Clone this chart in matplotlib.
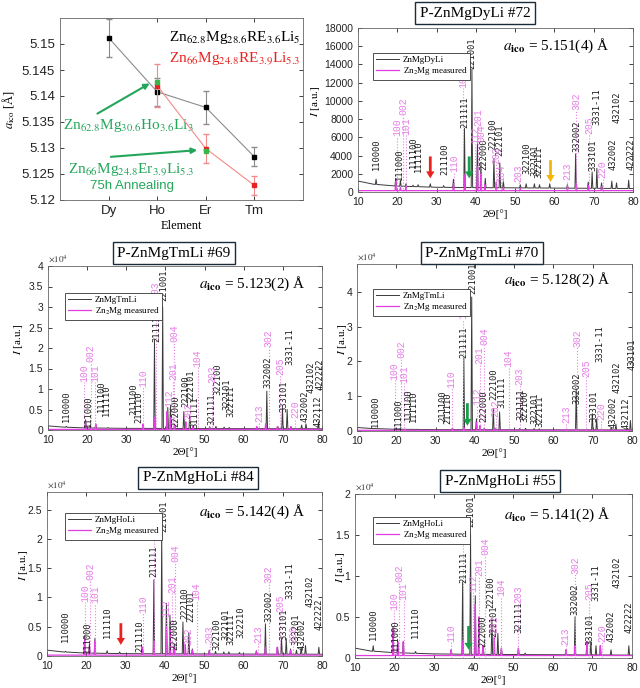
import numpy as np
import matplotlib
matplotlib.use('Agg')
import matplotlib.pyplot as plt
from matplotlib.ticker import FuncFormatter

plt.rcParams['mathtext.fontset'] = 'stix'
plt.rcParams['font.family'] = 'Liberation Sans'

# ---------------- lattice parameter panel ----------------
elements = ['Dy', 'Ho', 'Er', 'Tm']
a_black = [5.1512, 5.1408, 5.1378, 5.1283]
a_black_err = [0.0037, 0.0027, 0.0031, 0.0018]
red_x = [2, 3, 4]
a_red = [5.1420, 5.1299, 5.1228]
a_red_err = [0.0042, 0.0028, 0.0019]
green_x = [2, 3]
a_green = [5.1426, 5.1294]

# ---------------- XRD patterns ----------------
# Zn2Mg reflections seen in the measured reference pattern
zn2mg_pos = [19.6, 20.8, 22.2, 34.3, 37.2, 40.4, 41.3, 42.3, 45.2, 47.0, 51.3, 63.3, 65.6, 68.6, 72.0]

# P-ZnMgDyLi #72
dy72_bg = [(10, 1200), (14, 850), (20, 650), (30, 520), (40, 480), (60, 430), (80, 380)]
dy72_peaks = [(14.6, 1400), (19.6, 1500), (20.8, 1300), (22.2, 900), (24.0, 750), (25.3, 800),
              (28.4, 900), (31.8, 700), (34.3, 1400), (37.1, 7000), (39.0, 13500), (40.4, 5400),
              (41.3, 3200), (42.4, 1500), (44.6, 3700), (46.1, 3200), (47.0, 1200), (51.3, 800),
              (52.8, 900), (54.9, 900), (56.2, 800), (58.8, 900), (63.3, 800), (65.4, 4200),
              (68.6, 1100), (69.6, 2200), (70.8, 2600), (72.0, 1000), (74.6, 1200), (75.8, 1000),
              (78.9, 1300)]
dy72_mg_base = 150
dy72_mg = [1400, 500, 700, 900, 1900, 2800, 2000, 800, 1100, 500, 400, 600, 900, 700, 600]
dy72_ico = [(14.7, '110000', 2400), (20.5, '111000', 1300), (24.1, '111100', 2600),
            (25.3, '111110', 2200), (32.2, '211100', 1900), (37.3, '211111', 7000),
            (38.9, '221001', 13500), (42.1, '222000', 2400), (44.4, '222100', 4600),
            (46.0, '222101', 3900), (52.9, '322100', 2000), (55.1, '322101', 1800),
            (56.1, '322111', 1500), (65.6, '332002', 4400), (69.7, '333101', 2300),
            (70.9, '3331-11', 7400), (74.9, '432002', 2400), (75.9, '432102', 7600),
            (79.4, '422222', 2400)]
dy72_zn = [(19.9, '100', 6100), (21.5, '002', 8500), (22.3, '101', 6300), (34.5, '110', 2200),
           (36.8, '103', 11400), (39.8, '112', 5300), (40.6, '201', 7200), (41.3, '004', 5500),
           (45.2, '202', 3100), (46.5, '104', 1100), (50.9, '203', 1100), (63.2, '213', 1300),
           (65.6, '302', 9000), (68.9, '205', 6400), (72.3, '220', 1500)]
dy72_arrows = [(28.4, 3900, 1500, '#e8231f'), (38.3, 3900, 1500, '#1a9e4a'), (59.0, 3500, 1100, '#f2b705')]

# P-ZnMgTmLi #69
tm69_bg = [(10, 1000), (14, 700), (20, 500), (30, 400), (50, 350), (80, 300)]
tm69_peaks = [(14.7, 900), (19.6, 2500), (20.8, 1200), (22.2, 1300), (25.3, 600), (34.3, 1200),
              (37.2, 22000), (39.3, 30000), (40.6, 5500), (41.3, 6000), (42.4, 1200), (44.7, 4500),
              (46.2, 3500), (47.1, 1000), (51.3, 800), (52.9, 900), (55.0, 700), (56.3, 600),
              (63.4, 700), (65.9, 9500), (68.7, 900), (69.9, 5500), (71.1, 5000), (72.1, 800),
              (74.8, 1200), (75.9, 1500), (79.1, 2000)]
tm69_mg_base = 150
tm69_mg = [2000, 800, 1500, 1500, 3000, 4500, 3000, 1200, 2000, 800, 600, 800, 1500, 800, 800]
tm69_ico = [(14.8, '110000', 2000), (20.4, '111000', 800), (23.6, '111100', 4500),
            (24.9, '111110', 3300), (31.9, '211100', 3700), (33.3, '211110', 1600),
            (37.7, '211111', 21500), (39.6, '221001', 31500), (42.6, '222000', 800),
            (45.1, '222100', 5500), (46.6, '222101', 7000), (47.5, '311111', 500),
            (51.9, '321111', 1200), (53.4, '322100', 8500), (55.7, '322101', 4900),
            (56.8, '322111', 3200), (66.3, '332002', 10200), (70.3, '333101', 4500),
            (71.8, '3331-11', 15800), (75.6, '432002', 2000), (77.2, '432102', 9000),
            (78.9, '432112', 800), (79.6, '422222', 9800)]
tm69_zn = [(19.2, '100', 11800), (20.9, '002', 16700), (22.0, '101', 11800), (34.3, '110', 10600),
           (37.5, '103', 32000), (41.0, '112', 5700), (42.0, '201', 12200), (42.3, '004', 21500),
           (45.9, '202', 2400), (48.2, '104', 15400), (51.9, '203', 11500), (63.9, '213', 2000),
           (66.4, '302', 20300), (69.3, '205', 13400), (73.1, '220', 2900)]
tm69_arrows = []

# P-ZnMgTmLi #70
tm70_bg = [(10, 1000), (14, 700), (20, 500), (30, 400), (50, 350), (80, 300)]
tm70_peaks = [(14.7, 800), (19.6, 700), (20.8, 600), (24.0, 500), (25.3, 500), (34.3, 700),
              (37.2, 21000), (39.2, 38500), (40.4, 3500), (41.3, 1500), (42.4, 800), (44.7, 6500),
              (46.3, 5500), (51.4, 700), (52.9, 800), (55.1, 700), (56.4, 600), (65.8, 12000),
              (69.9, 5000), (71.0, 3500), (74.7, 1000), (75.9, 2000), (78.9, 800), (79.6, 3000)]
tm70_mg_base = 200
tm70_mg = [800, 300, 500, 800, 1000, 2500, 1500, 500, 800, 400, 300, 400, 600, 400, 400]
tm70_ico = [(14.6, '110000', 1200), (20.5, '111000', 200), (23.2, '111100', 3100),
            (24.3, '111110', 2600), (31.8, '211100', 2600), (33.1, '211110', 2000),
            (37.3, '211111', 20900), (39.4, '221001', 39500), (42.3, '222000', 2600),
            (44.9, '222100', 8800), (46.9, '311111', 6500), (51.6, '321111', 3100),
            (52.8, '322100', 2600), (55.3, '322101', 2000), (56.6, '322111', 1200),
            (66.0, '332002', 7900), (70.2, '333101', 2600), (71.7, '3331-11', 19900),
            (75.2, '432002', 800), (76.3, '432102', 10800), (78.4, '432112', 500),
            (79.9, '433101', 17500)]
tm70_zn = [(19.6, '100', 14600), (21.3, '002', 21000), (22.0, '101', 13700), (34.1, '110', 12300),
           (37.1, '103', 32300), (40.5, '112', 7400), (41.2, '201', 19400), (42.3, '004', 24700),
           (45.3, '202', 4000), (48.6, '104', 18400), (51.4, '203', 13100), (63.3, '213', 2200),
           (66.0, '302', 24200), (68.4, '205', 15500), (72.1, '220', 3100)]
tm70_arrows = [(38.1, 8000, 1500, '#1a9e4a')]

# P-ZnMgHoLi #84
ho84_bg = [(10, 1000), (14, 700), (20, 500), (30, 400), (50, 350), (80, 300)]
ho84_peaks = [(14.7, 800), (19.6, 3500), (20.8, 2000), (22.2, 3000), (25.3, 900), (28.5, 700),
              (34.3, 1500), (37.2, 13000), (39.2, 21000), (40.4, 9000), (41.3, 7000), (42.4, 2000),
              (44.6, 5800), (46.1, 4000), (47.0, 1200), (51.3, 1000), (52.9, 800), (55.0, 700),
              (56.3, 700), (59.0, 600), (63.3, 900), (65.6, 5500), (68.7, 1500), (69.7, 3000),
              (70.9, 3000), (72.0, 1200), (73.5, 1000), (74.7, 1500), (75.8, 1800), (79.2, 1500)]
ho84_mg_base = 150
ho84_mg = [3000, 1500, 2500, 1500, 2500, 5000, 4500, 1500, 2000, 1000, 800, 800, 1500, 1500, 1000]
ho84_ico = [(14.7, '110000', 2400), (20.3, '111000', 500), (25.4, '111110', 3000),
            (33.7, '211110', 700), (37.3, '211111', 13500), (39.8, '221001', 21100),
            (42.6, '222000', 1000), (45.2, '222100', 6400), (46.7, '222101', 5800),
            (53.2, '322100', 1000), (55.6, '322101', 2800), (56.8, '322111', 1900),
            (59.3, '322210', 3000), (66.6, '332002', 5800), (70.3, '333101', 2700),
            (71.7, '3331-11', 9800), (73.4, '333201', 1900), (74.8, '432002', 1000),
            (77.0, '432102', 8400), (79.3, '422222', 4400)]
ho84_zn = [(19.7, '100', 9200), (21.0, '002', 12900), (22.3, '101', 9000), (34.4, '110', 7300),
           (37.3, '103', 20000), (40.3, '112', 6700), (41.8, '201', 10700), (42.6, '004', 16000),
           (46.0, '202', 1900), (48.1, '104', 9500), (51.4, '203', 2200), (63.8, '213', 2200),
           (66.4, '302', 12400), (69.3, '205', 7500), (72.7, '220', 2200)]
ho84_arrows = [(28.8, 5600, 1900, '#e8231f')]

# P-ZnMgHoLi #55
ho55_bg = [(10, 1200), (14, 850), (20, 650), (30, 500), (40, 450), (60, 400), (80, 350)]
ho55_peaks = [(14.6, 1500), (19.6, 3800), (20.8, 2000), (22.2, 2000), (25.3, 800), (34.3, 1000),
              (37.2, 9300), (39.2, 15000), (40.4, 7600), (41.3, 4000), (42.4, 1500), (44.6, 4800),
              (46.1, 3000), (47.0, 1200), (51.3, 1200), (53.0, 600), (63.3, 1000), (65.6, 5000),
              (68.6, 2000), (69.6, 2000), (70.9, 1500), (72.0, 1500), (74.7, 1000), (79.2, 1500)]
ho55_mg_base = 300
ho55_mg = [3500, 2000, 2000, 1000, 2000, 6500, 5000, 1500, 2500, 1200, 1200, 1000, 1500, 2000, 1500]
ho55_ico = [(14.6, '110000', 2200), (20.3, '111000', 800), (25.3, '111110', 2400),
            (37.4, '211111', 9100), (39.3, '221001', 16000), (42.3, '222000', 1400),
            (44.4, '222100', 6100), (45.2, '222101', 2600), (51.3, '321111', 3000),
            (65.6, '332002', 5300), (69.3, '333101', 1600), (70.8, '3331-11', 6900),
            (74.8, '432002', 2000), (76.2, '432102', 8500), (79.2, '422222', 3000)]
ho55_zn = [(19.8, '100', 5900), (21.1, '002', 9300), (22.3, '101', 7100), (34.3, '110', 2000),
           (37.2, '103', 14000), (39.9, '112', 8100), (41.4, '201', 10000), (42.9, '004', 12600),
           (45.2, '202', 3000), (46.9, '104', 7500), (51.3, '203', 6700), (63.2, '213', 1600),
           (65.7, '302', 10200), (69.1, '205', 7100), (72.4, '220', 2000)]
ho55_arrows = [(38.7, 3900, 1000, '#1a9e4a')]

BLACK = '#3a3a3a'
MAG = '#e03ce0'
MAG_TXT = '#e67fe6'
GREEN = '#23a65a'

fig = plt.figure(figsize=(6.4, 6.88), dpi=100)


def add_ax(l, t, r, b):
    return fig.add_axes([l / 640, 1 - b / 688, (r - l) / 640, (b - t) / 688])


def style(ax, size):
    ax.tick_params(direction='in', top=True, right=True, length=3, width=0.6,
                   labelsize=size, colors='#222222')
    for s in ax.spines.values():
        s.set_linewidth(0.6)
        s.set_color('#666666')


def build_line(bg, peaks, w=0.18):
    bx = [p[0] for p in bg]
    by = [p[1] for p in bg]
    pts = list(bg)
    for pos, h in peaks:
        b = np.interp(pos, bx, by)
        pts += [(pos - w, b), (pos, h), (pos + w, b)]
    pts.sort()
    return [p[0] for p in pts], [p[1] for p in pts]


def build_mg(base, heights, w=0.15):
    xs, ys = [10], [base]
    for pos, h in zip(zn2mg_pos, heights):
        xs += [pos - w, pos, pos + w]
        ys += [base, h, base]
    xs.append(80)
    ys.append(base)
    return xs, ys


def xrd_panel(box, ylim, yticks, sci, name, title_xy, title, a_xy, a_txt, leg_xy,
              bg, peaks, mg_base, mg, ico, zn, arrows, ylab_x):
    ax = add_ax(*box)
    x, y = build_line(bg, peaks)
    l1, = ax.plot(x, y, color=BLACK, lw=0.7)
    xm, ym = build_mg(mg_base, mg)
    l2, = ax.plot(xm, ym, color=MAG, lw=0.9)
    for pos, lab, yb in ico:
        ax.text(pos, yb, lab, rotation=90, ha='center', va='bottom', fontsize=6.3,
                family='DejaVu Sans Mono', color='#1e1e1e')
    for pos, lab, yb in zn:
        ax.vlines(pos, 0, yb, colors=MAG_TXT, linestyles=':', lw=0.8)
        ax.text(pos, yb, lab, rotation=90, ha='center', va='bottom', fontsize=7,
                family='Liberation Mono', color=MAG_TXT)
    for pos, y0, y1, c in arrows:
        ax.annotate('', xy=(pos, y1), xytext=(pos, y0),
                    arrowprops=dict(color=c, width=2.0, headwidth=6, headlength=5, lw=0))
    ax.set_xlim(10, 80)
    ax.set_ylim(*ylim)
    ax.set_xticks(range(10, 81, 10))
    ax.set_yticks(yticks)
    if sci:
        ax.yaxis.set_major_formatter(FuncFormatter(lambda v, _: '%g' % (v / 1e4)))
        ax.text(0, 1.01, r'$\times10^4$', transform=ax.transAxes, fontsize=6.5,
                ha='left', va='bottom', family='Liberation Sans', color='#333333')
    style(ax, 7.5)
    ax.set_xlabel('2Θ[°]', family='Liberation Serif', fontsize=8, labelpad=2)
    ax.set_ylabel('$I$ [a.u.]', family='Liberation Serif', fontsize=8)
    ax.yaxis.set_label_coords(ylab_x, 0.55)
    fig.text(title_xy[0] / 640, 1 - title_xy[1] / 688, title, family='Liberation Serif',
             fontsize=11, ha='center', va='center',
             bbox=dict(boxstyle='square,pad=0.3', fc='white', ec='#1c2b3a', lw=1))
    fig.text(a_xy[0] / 640, 1 - a_xy[1] / 688, a_txt, family='Liberation Serif',
             fontsize=11, ha='center', va='center')
    ax.legend([l1, l2], [name, 'Zn$_2$Mg measured'], loc='upper left',
              bbox_to_anchor=(leg_xy[0] / 640, 1 - leg_xy[1] / 688),
              bbox_transform=fig.transFigure, borderaxespad=0,
              prop={'family': 'Liberation Serif', 'size': 6.5}, fancybox=False,
              edgecolor='#333333', framealpha=1, borderpad=0.3, handlelength=2.6,
              handletextpad=0.4, labelspacing=0.15)
    ax.get_legend().get_frame().set_linewidth(0.6)
    return ax


# ---------------- panel A ----------------
axa = add_ax(60, 18, 303, 200)
xb = np.arange(1, len(elements) + 1)
axa.errorbar(xb, a_black, yerr=a_black_err, color='#8c8c8c', lw=0.8, ecolor='#8c8c8c',
             elinewidth=0.8, capsize=2, marker='s', ms=3, mfc='black', mec='black', zorder=2)
axa.errorbar(red_x, a_red, yerr=a_red_err, color='#f28a8a', lw=0.8, ecolor='#f28a8a',
             elinewidth=0.8, capsize=2, marker='s', ms=3, mfc='#e8231f', mec='#e8231f', zorder=3)
axa.plot(green_x, a_green, 's', ms=3, color='#3bb54a', zorder=4)
axa.set_xlim(0, 5)
axa.set_ylim(5.12, 5.155)
axa.set_xticks(xb)
axa.set_xticklabels(elements)
axa.set_yticks([5.12, 5.125, 5.13, 5.135, 5.14, 5.145, 5.15])
axa.yaxis.set_major_formatter(FuncFormatter(lambda v, _: '%g' % round(v, 3)))
style(axa, 9.5)
axa.set_xlabel('Element', family='Liberation Serif', fontsize=9, labelpad=2)
axa.set_ylabel(r'$a_{\rm ico}$ [Å]', family='Liberation Serif', fontsize=9)
axa.yaxis.set_label_coords(-0.175, 0.5)
fs_f = 11
axa.text(0.99, 0.895, 'Zn$_{62.8}$Mg$_{28.6}$RE$_{3.6}$Li$_5$', transform=axa.transAxes,
         ha='right', va='center', fontsize=fs_f, family='Liberation Serif', color='black')
axa.text(0.99, 0.775, 'Zn$_{66}$Mg$_{24.8}$RE$_{3.9}$Li$_{5.3}$', transform=axa.transAxes,
         ha='right', va='center', fontsize=fs_f, family='Liberation Serif', color='#e8231f')
axa.text(0.012, 0.41, 'Zn$_{62.8}$Mg$_{30.6}$Ho$_{3.6}$Li$_3$', transform=axa.transAxes,
         ha='left', va='center', fontsize=fs_f, family='Liberation Serif', color=GREEN)
axa.text(0.033, 0.165, 'Zn$_{66}$Mg$_{24.8}$Er$_{3.9}$Li$_{5.3}$', transform=axa.transAxes,
         ha='left', va='center', fontsize=fs_f, family='Liberation Serif', color=GREEN)
axa.text(0.296, 0.075, '75h Annealing', transform=axa.transAxes,
         ha='center', va='center', fontsize=9.5, family='Liberation Sans', color=GREEN)
axa.annotate('', xy=(0.379, 0.648), xytext=(0.144, 0.467), xycoords='axes fraction',
             arrowprops=dict(arrowstyle='-|>', color=GREEN, lw=1.5, mutation_scale=8))
axa.annotate('', xy=(0.576, 0.275), xytext=(0.198, 0.236), xycoords='axes fraction',
             arrowprops=dict(arrowstyle='-|>', color=GREEN, lw=1.5, mutation_scale=8))

# ---------------- XRD panels ----------------
xrd_panel((358, 28, 633, 192), (0, 18000), range(0, 18001, 2000), False, 'ZnMgDyLi',
          (475, 13), 'P-ZnMgDyLi #72', (556, 46), r'$a_{\mathbf{ico}}$ = 5.151(4) Å', (373, 53),
          dy72_bg, dy72_peaks, dy72_mg_base, dy72_mg, dy72_ico, dy72_zn, dy72_arrows, -0.13)
xrd_panel((48, 266, 322, 430), (0, 40000), range(0, 40001, 5000), True, 'ZnMgTmLi',
          (174, 253), 'P-ZnMgTmLi #69', (252, 284), r'$a_{\mathbf{ico}}$ = 5.123(2) Å', (65, 293),
          tm69_bg, tm69_peaks, tm69_mg_base, tm69_mg, tm69_ico, tm69_zn, tm69_arrows, -0.085)
xrd_panel((357, 264, 632, 431), (0, 48000), range(0, 40001, 10000), True, 'ZnMgTmLi',
          (482, 253), 'P-ZnMgTmLi #70', (557, 280), r'$a_{\mathbf{ico}}$ = 5.128(2) Å', (373, 289),
          tm70_bg, tm70_peaks, tm70_mg_base, tm70_mg, tm70_ico, tm70_zn, tm70_arrows, -0.03)
xrd_panel((47, 492, 322, 656), (0, 28000), range(0, 25001, 5000), True, 'ZnMgHoLi',
          (198, 478), 'P-ZnMgHoLi #84', (252, 512), r'$a_{\mathbf{ico}}$ = 5.142(4) Å', (65, 513),
          ho84_bg, ho84_peaks, ho84_mg_base, ho84_mg, ho84_ico, ho84_zn, ho84_arrows, -0.06)
xrd_panel((355, 494, 632, 658), (0, 20000), range(0, 20001, 5000), True, 'ZnMgHoLi',
          (500, 481), 'P-ZnMgHoLi #55', (557, 515), r'$a_{\mathbf{ico}}$ = 5.141(2) Å', (373, 517),
          ho55_bg, ho55_peaks, ho55_mg_base, ho55_mg, ho55_ico, ho55_zn, ho55_arrows, -0.03)

fig.savefig('out.png', dpi=100)
